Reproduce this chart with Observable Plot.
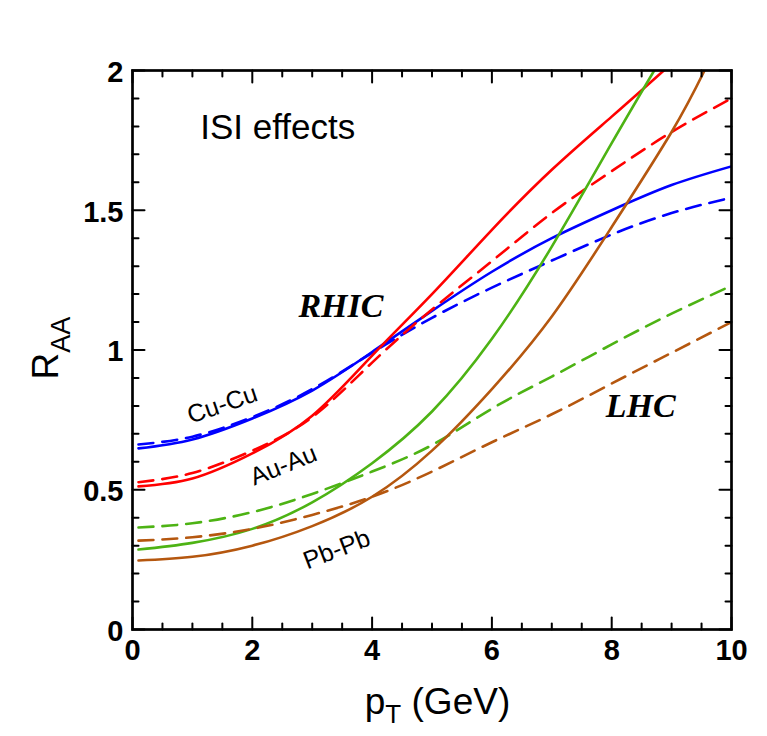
<!DOCTYPE html>
<html><head><meta charset="utf-8">
<script src="https://cdn.jsdelivr.net/npm/d3@7"></script>
<script src="https://cdn.jsdelivr.net/npm/@observablehq/plot@0.6"></script>
<style>
body{margin:0;background:#fff;}
#chart svg{display:block;}
</style>
</head><body><div id="chart"></div>
<script>
// ---- data ----
const ptFull = [0.1, 1, 2, 3, 4, 5, 6, 7, 8, 9, 10];
const cuSolid  = [0.648, 0.68, 0.755, 0.855, 0.993, 1.14, 1.28, 1.40, 1.50, 1.59, 1.657];
const cuDashed = [0.662, 0.69, 0.76, 0.86, 0.99, 1.115, 1.223, 1.32, 1.413, 1.49, 1.545];
const auSolidPt = [0.1, 1, 2, 3, 4, 5, 6, 7, 8, 8.87];
const auSolid  = [0.512, 0.54, 0.63, 0.765, 0.98, 1.20, 1.43, 1.645, 1.835, 2.0];
const auDashed = [0.527, 0.56, 0.64, 0.76, 0.955, 1.145, 1.318, 1.49, 1.64, 1.78, 1.9];
const lhcGreenPt = [0.1, 1, 2, 3, 4, 5, 6, 7, 8, 8.71];
const lhcGreenSolid = [0.286, 0.31, 0.36, 0.455, 0.595, 0.78, 1.04, 1.37, 1.74, 2.0];
const lhcGreenDashed = [0.365, 0.38, 0.42, 0.485, 0.565, 0.66, 0.79, 0.905, 1.02, 1.13, 1.23];
const pbPt = [0.1, 1, 2, 3, 4, 5, 6, 7, 8, 9, 9.55];
const pbSolid = [0.247, 0.26, 0.30, 0.37, 0.475, 0.64, 0.86, 1.12, 1.44, 1.78, 2.0];
const pbDashed = [0.318, 0.33, 0.36, 0.41, 0.475, 0.565, 0.67, 0.77, 0.88, 0.99, 1.1];

const xMajor = [0, 2, 4, 6, 8, 10];
const xMinor = [0.5, 1, 1.5, 2.5, 3, 3.5, 4.5, 5, 5.5, 6.5, 7, 7.5, 8.5, 9, 9.5];
const yMajor = [0, 0.5, 1, 1.5, 2];
const yMinor = [0.1, 0.2, 0.3, 0.4, 0.6, 0.7, 0.8, 0.9, 1.1, 1.2, 1.3, 1.4, 1.6, 1.7, 1.8, 1.9];

const labelText = ["ISI effects", "RHIC", "LHC", "Cu-Cu", "Au-Au", "Pb-Pb"];
const labelX = [1.13, 2.77, 7.9, 1.50, 2.52, 3.41];
const labelY = [1.794, 1.156, 0.798, 0.805, 0.587, 0.286];

// ---- styles ----
const BLUE = "#0000ff", RED = "#ff0000", GREEN = "#4db314", BROWN = "#b5570f";
const DASH = "15,9";

const series = [
  {x: ptFull, y: cuSolid, color: BLUE, dash: null},
  {x: ptFull, y: cuDashed, color: BLUE, dash: DASH},
  {x: auSolidPt, y: auSolid, color: RED, dash: null},
  {x: ptFull, y: auDashed, color: RED, dash: DASH},
  {x: lhcGreenPt, y: lhcGreenSolid, color: GREEN, dash: null},
  {x: ptFull, y: lhcGreenDashed, color: GREEN, dash: DASH},
  {x: pbPt, y: pbSolid, color: BROWN, dash: null},
  {x: ptFull, y: pbDashed, color: BROWN, dash: DASH}
];

const lineMarks = series.map(s => Plot.line(s.x.map((v, i) => ({x: v, y: s.y[i]})), {
  x: "x", y: "y", stroke: s.color, strokeWidth: 2.6,
  strokeDasharray: s.dash, curve: "natural", clip: true
}));

const labels = labelText.map((t, i) => ({t, x: labelX[i], y: labelY[i]}));
const sans = "'Liberation Sans', Arial, Helvetica, sans-serif";
const serif = "'Liberation Serif', 'Times New Roman', serif";

const mL = 132, mR = 36, mT = 70, mB = 107, W = 767, H = 736;
const MAJ = 12, MIN = 6;

// inward ticks on all four sides, drawn as short vectors from the frame edge
const stem = {draw(ctx, l) { ctx.moveTo(0, 0); ctx.lineTo(0, -l); }};
const tickOpts = {shape: stem, anchor: "start", stroke: "black", strokeWidth: 2};
const tickMarks = [
  Plot.vector(xMajor, {x: d => d, frameAnchor: "bottom", length: MAJ, rotate: 0, ...tickOpts}),
  Plot.vector(xMinor, {x: d => d, frameAnchor: "bottom", length: MIN, rotate: 0, ...tickOpts}),
  Plot.vector(xMajor, {x: d => d, frameAnchor: "top", length: MAJ, rotate: 180, ...tickOpts}),
  Plot.vector(xMinor, {x: d => d, frameAnchor: "top", length: MIN, rotate: 180, ...tickOpts}),
  Plot.vector(yMajor, {y: d => d, frameAnchor: "left", length: MAJ, rotate: 90, ...tickOpts}),
  Plot.vector(yMinor, {y: d => d, frameAnchor: "left", length: MIN, rotate: 90, ...tickOpts}),
  Plot.vector(yMajor, {y: d => d, frameAnchor: "right", length: MAJ, rotate: -90, ...tickOpts}),
  Plot.vector(yMinor, {y: d => d, frameAnchor: "right", length: MIN, rotate: -90, ...tickOpts})
];

const chart = Plot.plot({
  width: W, height: H,
  marginLeft: mL, marginRight: mR, marginTop: mT, marginBottom: mB,
  style: {fontFamily: sans, background: "white", color: "black"},
  x: {domain: [0, 10]},
  y: {domain: [0, 2]},
  length: {type: "identity"},
  marks: [
    ...lineMarks,
    ...tickMarks,
    Plot.axisX(xMajor, {anchor: "bottom", tickSize: 0, tickPadding: 10, fontSize: 29, fontWeight: "bold", label: null, tickFormat: d => String(d)}),
    Plot.axisY(yMajor, {anchor: "left", tickSize: 0, tickPadding: 9, dy: 2, fontSize: 29, fontWeight: "bold", label: null, tickFormat: d => String(d)}),
    Plot.frame({stroke: "black", strokeWidth: 2.7}),
    Plot.text(labels.slice(0, 1), {x: "x", y: "y", text: "t", textAnchor: "start", fontSize: 35, fontFamily: sans, fill: "black"}),
    Plot.text(labels.slice(1, 3), {x: "x", y: "y", text: "t", textAnchor: "start", fontSize: 34, fontFamily: serif, fontWeight: "bold", fontStyle: "italic", fill: "black"}),
    Plot.text(labels.slice(3, 4), {x: "x", y: "y", text: "t", fontSize: 25, rotate: -19, fontFamily: sans, fill: "black"}),
    Plot.text(labels.slice(4, 5), {x: "x", y: "y", text: "t", fontSize: 25, rotate: -22, fontFamily: sans, fill: "black"}),
    Plot.text(labels.slice(5, 6), {x: "x", y: "y", text: "t", fontSize: 25, rotate: -21, fontFamily: sans, fill: "black"})
  ]
});

// axis titles with subscripts
const svg = d3.select(chart);
const cx = (mL + W - mR) / 2 + 6;
const xt = svg.append("text")
  .attr("x", cx).attr("y", 714)
  .attr("text-anchor", "middle")
  .attr("font-family", sans).attr("font-size", 37).attr("fill", "black");
xt.append("tspan").text("p");
xt.append("tspan").attr("font-size", 26).attr("dy", 9).text("T");
xt.append("tspan").attr("dy", -9).text(" (GeV)");

const cy = 348;
const yt = svg.append("text")
  .attr("transform", `translate(58,${cy}) rotate(-90)`)
  .attr("text-anchor", "middle")
  .attr("font-family", sans).attr("font-size", 37).attr("fill", "black");
yt.append("tspan").text("R");
yt.append("tspan").attr("font-size", 27).attr("dy", 12).text("AA");

document.getElementById("chart").appendChild(chart);
</script>
</body></html>
